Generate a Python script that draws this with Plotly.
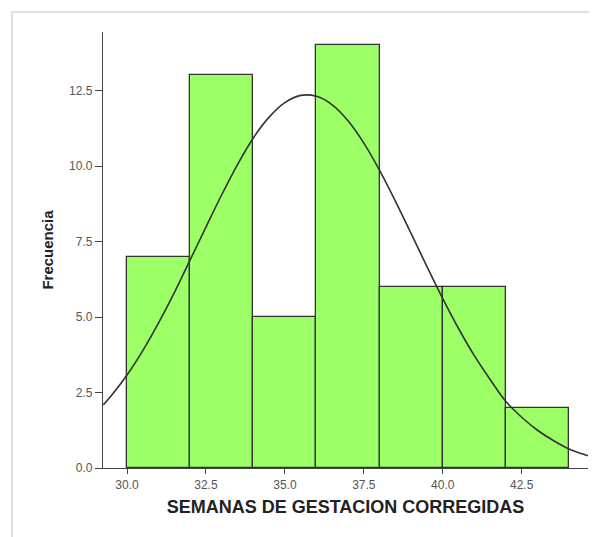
import plotly.graph_objects as go

# Histogram bins (weeks) and frequencies
bin_left = [30, 32, 34, 36, 38, 40, 42]
bin_width = 2
frecuencia = [7, 13, 5, 14, 6, 6, 2]

# Normal curve
curve_x = [29.25, 29.5, 30, 30.5, 31, 31.5, 32, 32.5, 33, 33.5, 34, 34.5, 35, 35.5,
           36, 36.5, 37, 37.5, 38, 38.5, 39, 39.5, 40, 40.5, 41, 41.5, 42, 42.5,
           43, 43.5, 44, 44.5, 44.6]
curve_y = [2.09, 2.39, 3.08, 3.89, 4.81, 5.81, 6.89, 7.98, 9.05, 10.05, 10.93, 11.62,
           12.10, 12.34, 12.31, 12.03, 11.50, 10.76, 9.86, 8.84, 7.76, 6.67, 5.61,
           4.62, 3.72, 2.93, 2.2, 1.68, 1.25, 0.91, 0.63, 0.44, 0.41]

x_ticks = [30.0, 32.5, 35.0, 37.5, 40.0, 42.5]
y_ticks = [0.0, 2.5, 5.0, 7.5, 10.0, 12.5]

centers = [b + bin_width / 2 for b in bin_left]

fig = go.Figure()
fig.add_trace(go.Bar(
    x=centers, y=frecuencia, width=[bin_width] * len(centers),
    marker=dict(color="#9CFF66", line=dict(color="#333333", width=1.3)),
    showlegend=False, hoverinfo="x+y"))
fig.add_trace(go.Scatter(
    x=curve_x, y=curve_y, mode="lines", line=dict(color="#333333", width=1.6, shape="spline"),
    showlegend=False, hoverinfo="skip"))

font_fam = "Liberation Sans, Arial, sans-serif"
fig.update_layout(
    width=589, height=529,
    margin=dict(l=95, r=9, t=24, b=69, autoexpand=False),
    paper_bgcolor="white", plot_bgcolor="white",
    font=dict(family=font_fam),
    bargap=0,
    xaxis=dict(range=[29.24, 44.6], tickvals=x_ticks, ticktext=[f"{v:.1f}" for v in x_ticks],
               showgrid=False, zeroline=False, showline=True, linecolor="#444444", linewidth=1.3,
               ticks="outside", ticklen=5, tickcolor="#444444",
               tickfont=dict(size=12, color="#555555"),
               title=dict(text="<b>SEMANAS DE GESTACION CORREGIDAS</b>", font=dict(size=18, color="#222222"),
                          standoff=9)),
    yaxis=dict(range=[0, 14.44], tickvals=y_ticks, ticktext=[f"{v:.1f}" for v in y_ticks],
               showgrid=False, zeroline=False, showline=True, linecolor="#444444", linewidth=1.3,
               ticks="outside", ticklen=7, tickcolor="#444444",
               tickfont=dict(size=12, color="#555555"),
               title=dict(text="<b>Frecuencia</b>", font=dict(size=15, color="#222222"), standoff=11)),
    shapes=[dict(type="rect", xref="paper", yref="paper",
                 x0=(4 - 95) / 485, x1=(600 - 95) / 485,
                 y0=(460 - 545) / 436, y1=(460 - 4) / 436,
                 line=dict(color="#d8d8d8", width=1.5), fillcolor="rgba(0,0,0,0)", layer="below")],
)

fig.write_html("out.html")
